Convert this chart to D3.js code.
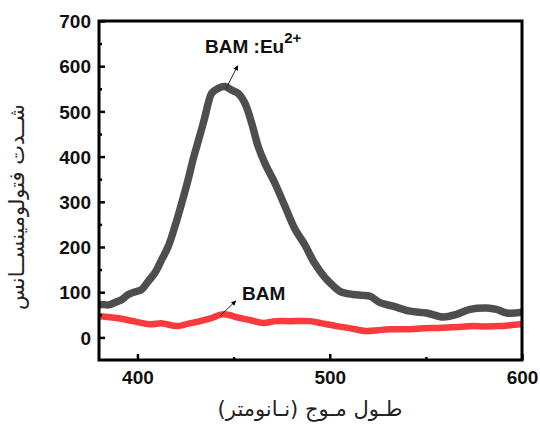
<!DOCTYPE html>
<html>
<head>
<meta charset="utf-8">
<script src="https://cdn.jsdelivr.net/npm/d3@7"></script>
<style>
  body { margin: 0; background: #fff; }
  svg { display: block; }
  .tick-label { font-family: "Liberation Sans", Arial, sans-serif; font-weight: bold; font-size: 19px; fill: #111; }
  .fa { font-family: "DejaVu Sans", "Noto Sans", sans-serif; font-size: 21px; fill: #222; }
</style>
</head>
<body>
<svg id="chart" width="540" height="425"></svg>
<script>
// Emission spectra: wavelength (nm) vs. photoluminescence intensity
const wavelengthEu = [380, 381.4, 385, 388.3, 392, 395.2, 399, 402.2, 405.6, 409.1, 412.6, 416, 419.5, 423, 426.4, 429, 432, 435.1, 436.8, 438.6, 442, 445.5, 449, 452.4, 455.9, 459.4, 462.8, 466.3, 471.5, 476.7, 481.9, 487, 492, 497, 500.1, 505.3, 512.2, 517, 521, 526.1, 533, 541.7, 550.4, 559, 566, 573, 581.6, 586.8, 592, 600];
const intensityEu = [72, 73, 72, 77, 84, 95, 101, 106, 124, 143, 172, 201, 246, 297, 350, 395, 440, 488, 518, 540, 551, 555, 547, 540, 518, 474, 422, 385, 341, 290, 240, 205, 165, 135, 121, 102, 95, 93, 91, 77, 69, 58, 54, 45, 51, 62, 65, 62, 54, 56];

const wavelengthBam = [380, 380.5, 389.2, 397.8, 406.5, 413, 420.4, 426, 432.5, 438, 444.6, 453.3, 459, 465.4, 472, 479.3, 489.7, 496, 503.6, 511, 519.2, 525, 531.3, 541.7, 549, 557.3, 566, 574.6, 581, 588.5, 594, 598.9, 600];
const intensityBam = [47, 47, 43, 36, 29, 31, 25, 30, 36, 42, 51, 43, 38, 32, 36, 36, 36, 31, 25, 20, 14, 16, 18, 18, 20, 21, 23, 25, 24, 25, 27, 29, 29];

const xTicks = [400, 500, 600];
const xMinor = [450, 550];
const yTicks = [0, 100, 200, 300, 400, 500, 600, 700];
const yMinor = [50, 150, 250, 350, 450, 550, 650];

const labelEu = "BAM :Eu";
const labelEuSup = "2+";
const labelBam = "BAM";
const yTitle = "شــدت فتولومینســانس";
const xTitle = "طـول مـوج (نـانومتر)";

const svg = d3.select("#chart");
const m = { left: 99, top: 21, right: 522, bottom: 360 };

const x = d3.scaleLinear().domain([380, 600]).range([m.left, m.right]);
const y = d3.scaleLinear().domain([-50, 700]).range([m.bottom, m.top]);

const line = d3.line().x(d => x(d[0])).y(d => y(d[1])).curve(d3.curveCatmullRom);

const bamPts = d3.zip(wavelengthBam, intensityBam);
const euPts = d3.zip(wavelengthEu, intensityEu);

const plot = svg.append("g");
plot.append("clipPath").attr("id", "clip").append("rect")
  .attr("x", m.left).attr("y", m.top).attr("width", m.right - m.left).attr("height", m.bottom - m.top);

plot.append("path").datum(euPts)
  .attr("clip-path", "url(#clip)")
  .attr("d", line).attr("fill", "none")
  .attr("stroke", "#4e4e4e").attr("stroke-width", 7.5).attr("stroke-linejoin", "round");

plot.append("path").datum(bamPts)
  .attr("clip-path", "url(#clip)")
  .attr("d", line).attr("fill", "none")
  .attr("stroke", "#fb3b3b").attr("stroke-width", 6.5).attr("stroke-linejoin", "round");

// Axes with inward ticks on bottom and left
const xAxis = d3.axisBottom(x).tickValues(xTicks).tickSize(-6).tickSizeOuter(0).tickFormat(d3.format("d"));
const gx = svg.append("g").attr("transform", `translate(0,${m.bottom})`).call(xAxis);
gx.select(".domain").remove();
gx.selectAll("line").attr("stroke", "#000").attr("stroke-width", 2.5);
gx.selectAll("text").attr("class", "tick-label").attr("dy", null).attr("y", 24);

const gxm = svg.append("g").attr("transform", `translate(0,${m.bottom})`)
  .call(d3.axisBottom(x).tickValues(xMinor).tickSize(-3).tickFormat(""));
gxm.select(".domain").remove();
gxm.selectAll("line").attr("stroke", "#000").attr("stroke-width", 2.5);

const yAxis = d3.axisLeft(y).tickValues(yTicks).tickSize(-6).tickSizeOuter(0).tickFormat(d3.format("d"));
const gy = svg.append("g").attr("transform", `translate(${m.left},0)`).call(yAxis);
gy.select(".domain").remove();
gy.selectAll("line").attr("stroke", "#000").attr("stroke-width", 2.5);
gy.selectAll("text").attr("class", "tick-label").attr("x", -8).attr("dy", "0.35em");

const gym = svg.append("g").attr("transform", `translate(${m.left},0)`)
  .call(d3.axisLeft(y).tickValues(yMinor).tickSize(-3).tickFormat(""));
gym.select(".domain").remove();
gym.selectAll("line").attr("stroke", "#000").attr("stroke-width", 2.5);

// Frame
svg.append("rect")
  .attr("x", m.left).attr("y", m.top).attr("width", m.right - m.left).attr("height", m.bottom - m.top)
  .attr("fill", "none").attr("stroke", "#000").attr("stroke-width", 3);

// Arrow marker
svg.append("defs").append("marker")
  .attr("id", "arr").attr("viewBox", "0 0 10 10").attr("refX", 8).attr("refY", 5)
  .attr("markerWidth", 5).attr("markerHeight", 5).attr("orient", "auto")
  .append("path").attr("d", "M0,0 L10,5 L0,10 z").attr("fill", "#000");

// Annotations
svg.append("line")
  .attr("x1", x(446)).attr("y1", y(550)).attr("x2", x(452)).attr("y2", y(600))
  .attr("stroke", "#222").attr("stroke-width", 1).attr("marker-end", "url(#arr)");
const tEu = svg.append("text").attr("class", "tick-label").attr("x", 205).attr("y", 53);
tEu.append("tspan").text(labelEu);
tEu.append("tspan").attr("dy", -10).attr("font-size", 15).text(labelEuSup);

svg.append("line")
  .attr("x1", x(443)).attr("y1", y(48)).attr("x2", x(451)).attr("y2", y(80))
  .attr("stroke", "#222").attr("stroke-width", 1).attr("marker-end", "url(#arr)");
svg.append("text").attr("class", "tick-label").attr("x", 242).attr("y", 300).text(labelBam);

// Axis titles
svg.append("text").attr("class", "fa")
  .attr("transform", `translate(24,207) rotate(-90)`)
  .attr("text-anchor", "middle").attr("direction", "rtl").text(yTitle);
svg.append("text").attr("class", "fa")
  .attr("x", 310).attr("y", 416).attr("text-anchor", "middle").attr("direction", "rtl").text(xTitle);
</script>
</body>
</html>
